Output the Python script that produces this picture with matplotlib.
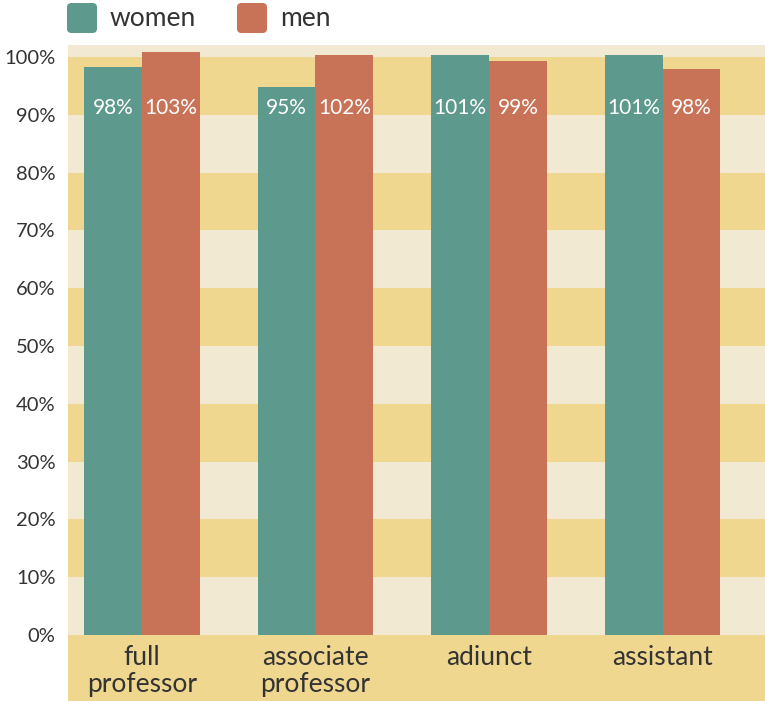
import matplotlib.pyplot as plt
from matplotlib.patches import FancyBboxPatch
import numpy as np

categories = ['full\nprofessor', 'associate\nprofessor', 'adiunct', 'assistant']
women = [98.2, 94.8, 100.4, 100.4]
men = [100.9, 100.4, 99.3, 98.0]
women_labels = ['98%', '95%', '101%', '101%']
men_labels = ['103%', '102%', '99%', '98%']
yticks = list(range(0, 101, 10))

TEAL = '#5d998c'
ORANGE = '#c87358'
YELLOW = '#f0d78f'
CREAM = '#f2e9d3'
TEXT = '#333333'

plt.rcParams['font.family'] = ['Lato', 'DejaVu Sans']

fig = plt.figure(figsize=(7.65, 7.01), dpi=100)
ax = fig.add_axes([68 / 765, 0, 1 - 68 / 765, 1 - 45 / 701])

ymin, ymax = -11.42, 102.08
ax.set_ylim(ymin, ymax)
ax.set_xlim(-0.425, 3.59)

# striped background
ax.axhspan(ymin, 0, color=YELLOW, lw=0, zorder=0)
for i in range(10):
    ax.axhspan(i * 10, (i + 1) * 10, color=YELLOW if i % 2 else CREAM, lw=0, zorder=0)
ax.axhspan(100, ymax, color=CREAM, lw=0, zorder=0)

x = np.arange(len(categories))
w = 1 / 3
ax.bar(x - w / 2, women, w, color=TEAL, zorder=2)
ax.bar(x + w / 2, men, w, color=ORANGE, zorder=2)

for xi, lw_, lm in zip(x, women_labels, men_labels):
    ax.text(xi - w / 2, 91.2, lw_, ha='center', va='center', color='white', fontsize=15, zorder=3)
    ax.text(xi + w / 2, 91.2, lm, ha='center', va='center', color='white', fontsize=15, zorder=3)

for xi, c in zip(x, categories):
    ax.text(xi, -1.8, c, ha='center', va='top', color=TEXT, fontsize=19, linespacing=1.08, zorder=3)

ax.set_yticks(yticks)
ax.set_yticklabels([f'{t}%' for t in yticks], fontsize=14.5, color=TEXT)
ax.tick_params(axis='y', length=0, pad=9)
ax.set_xticks([])
for s in ax.spines.values():
    s.set_visible(False)

# legend
W, H = 765, 701
for x0, col, lab in [(67, TEAL, 'women'), (237, ORANGE, 'men')]:
    fig.add_artist(FancyBboxPatch((x0 / W, 1 - 33 / H), 30 / W, 30 / H,
                                  boxstyle='round,pad=0,rounding_size=0.006',
                                  transform=fig.transFigure, color=col, lw=0))
    fig.text((x0 + 43) / W, 1 - 18 / H, lab, ha='left', va='center', fontsize=19, color=TEXT)

fig.savefig('out.png', dpi=100)
